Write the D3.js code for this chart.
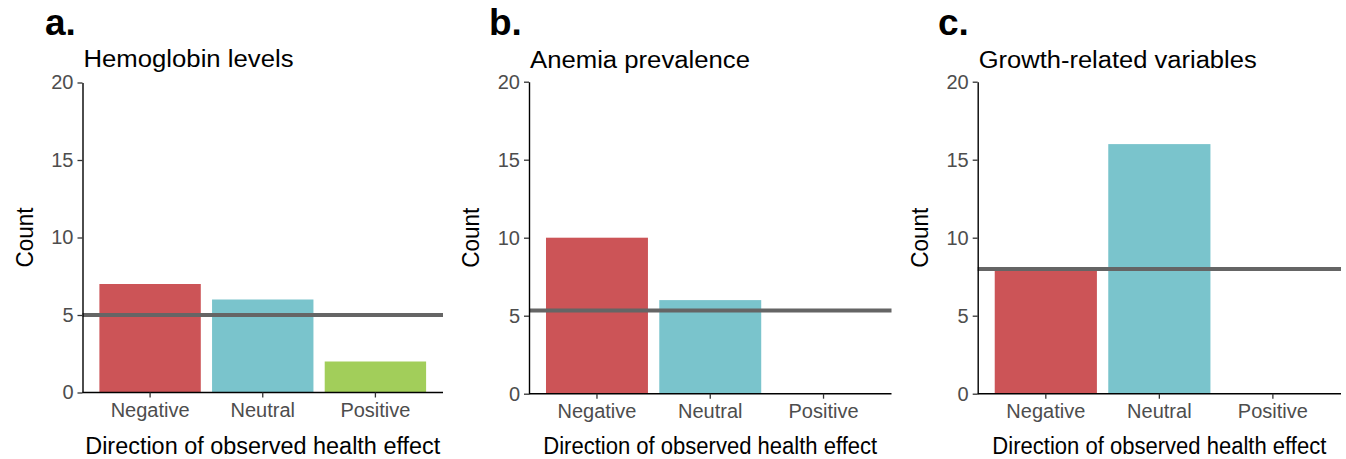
<!DOCTYPE html>
<html>
<head>
<meta charset="utf-8">
<script src="https://cdn.jsdelivr.net/npm/d3@7"></script>
<style>
  html, body { margin: 0; padding: 0; background: #ffffff; }
  svg { display: block; font-family: "Liberation Sans", Arial, sans-serif; }
</style>
</head>
<body>
<svg id="chart" width="1346" height="459"></svg>
<script>
// Data
const categories = ["Negative", "Neutral", "Positive"];
const hemoglobinCounts = [7, 6, 2];
const anemiaCounts = [10, 6, 0];
const growthCounts = [8, 16, 0];
const panelTitles = ["Hemoglobin levels", "Anemia prevalence", "Growth-related variables"];
const panelLetters = ["a.", "b.", "c."];
const yTicks = [0, 5, 10, 15, 20];
const xAxisTitle = "Direction of observed health effect";
const yAxisTitle = "Count";

// Fill colour for each direction of effect
const fillColors = { Negative: "#cc5457", Neutral: "#7ac4cc", Positive: "#a2ce5a" };

// Plot frames for the three panels (pixels)
const frames = [
  { left: 82.5, right: 443, top: 82.5, bottom: 392.5, titleW: 210, xTitleW: 355, titleY: 67, letterX: 45 },
  { left: 529, right: 891.5, top: 81.7, bottom: 393.7, titleW: 220, xTitleW: 334, titleY: 68, letterX: 489 },
  { left: 977.7, right: 1341, top: 81.7, bottom: 393.7, titleW: 278, xTitleW: 334, titleY: 67.5, letterX: 938 }
];

const seriesList = [hemoglobinCounts, anemiaCounts, growthCounts];
const svg = d3.select("#chart");

seriesList.forEach((values, i) => {
  const f = frames[i];
  const g = svg.append("g");

  const x = d3.scaleBand()
    .domain(categories)
    .range([f.left, f.right])
    .paddingInner(0.1)
    .paddingOuter(0.15);

  const y = d3.scaleLinear()
    .domain([0, 20])
    .range([f.bottom, f.top]);

  const rows = categories.map((c, k) => ({ cat: c, value: values[k] }));

  // Bars
  g.selectAll("rect.bar")
    .data(rows.filter(d => d.value > 0))
    .join("rect")
    .attr("class", "bar")
    .attr("x", d => x(d.cat))
    .attr("width", x.bandwidth())
    .attr("y", d => y(d.value))
    .attr("height", d => y(0) - y(d.value))
    .attr("fill", d => fillColors[d.cat]);

  // Mean count across the three directions
  const meanValue = d3.mean(values);
  g.append("line")
    .attr("x1", f.left)
    .attr("x2", f.right)
    .attr("y1", y(meanValue))
    .attr("y2", y(meanValue))
    .attr("stroke", "#656565")
    .attr("stroke-width", 4);

  // Y axis
  const yAxis = g.append("g")
    .attr("transform", `translate(${f.left},0)`)
    .call(d3.axisLeft(y).tickValues(yTicks).tickSize(5).tickPadding(4).tickSizeOuter(0));
  yAxis.select(".domain").attr("stroke", "#000").attr("stroke-width", 1.4);
  yAxis.selectAll(".tick line").attr("stroke", "#333").attr("stroke-width", 1.3);
  yAxis.selectAll(".tick text")
    .attr("fill", "#4d4d4d")
    .style("font-size", "20px")
    .style("font-family", "'Liberation Sans', Arial, sans-serif");

  // X axis
  const xAxis = g.append("g")
    .attr("transform", `translate(0,${f.bottom})`)
    .call(d3.axisBottom(x).tickSize(5).tickPadding(5).tickSizeOuter(0));
  xAxis.select(".domain")
    .attr("d", `M${f.left},0H${f.right}`)
    .attr("stroke", "#000").attr("stroke-width", 1.4);
  xAxis.selectAll(".tick line").attr("stroke", "#333").attr("stroke-width", 1.3);
  xAxis.selectAll(".tick text")
    .attr("fill", "#4d4d4d")
    .style("font-size", "20px")
    .style("font-family", "'Liberation Sans', Arial, sans-serif");

  // Axis titles
  g.append("text")
    .attr("x", (f.left + f.right) / 2)
    .attr("y", 454)
    .attr("text-anchor", "middle")
    .attr("textLength", f.xTitleW)
    .attr("lengthAdjust", "spacingAndGlyphs")
    .style("font-size", "23px")
    .attr("fill", "#000")
    .text(xAxisTitle);

  g.append("text")
    .attr("transform", `translate(${f.left - 50},${(f.top + f.bottom) / 2}) rotate(-90)`)
    .attr("text-anchor", "middle")
    .attr("textLength", 60)
    .attr("lengthAdjust", "spacingAndGlyphs")
    .style("font-size", "23.5px")
    .attr("fill", "#000")
    .text(yAxisTitle);

  // Panel title
  g.append("text")
    .attr("x", f.left + 1)
    .attr("y", f.titleY)
    .attr("textLength", f.titleW)
    .attr("lengthAdjust", "spacingAndGlyphs")
    .style("font-size", "23px")
    .attr("fill", "#000")
    .text(panelTitles[i]);

  // Panel letter
  g.append("text")
    .attr("x", f.letterX)
    .attr("y", 34.5)
    .style("font-size", "37px")
    .style("font-weight", "bold")
    .attr("fill", "#000")
    .text(panelLetters[i]);
});
</script>
</body>
</html>
